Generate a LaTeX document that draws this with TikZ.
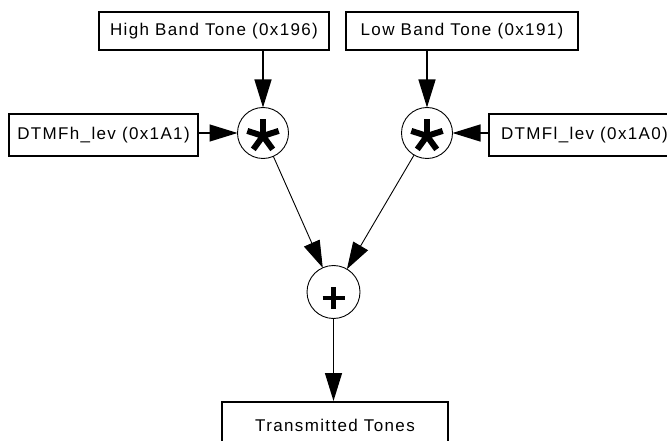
\documentclass[tikz,border=0pt]{standalone}
\usepackage{fontspec}
\setmainfont{Liberation Sans}[LetterSpace=8]
\usetikzlibrary{arrows.meta}
\begin{document}
\begin{tikzpicture}[x=1pt,y=-1pt,
  box/.style={draw,line width=2pt,rectangle,inner sep=0pt,font=\fontsize{17}{20}\selectfont},
  opnode/.style={draw,circle,line width=0.9pt,minimum size=51pt,inner sep=0pt,outer sep=0pt},
  conn/.style={line width=1.3pt,-{Triangle[length=28pt,width=17pt]}},
  diag/.style={line width=0.9pt,-{Triangle[length=27pt,width=17pt]}}]
\clip (0,0) rectangle (667,441);
\node[box,minimum width=230pt,minimum height=38pt] (hb) at (214,31) {High Band Tone (0x196)};
\node[box,minimum width=232pt,minimum height=38pt] (lb) at (462,31) {Low Band Tone (0x191)};
\node[box,minimum width=189pt,minimum height=42pt] (dh) at (103.5,135) {DTMFh\_lev (0x1A1)};
\node[box,minimum width=191pt,minimum height=42pt] (dl) at (584.5,135) {DTMFl\_lev (0x1A0)};
\node[box,minimum width=226pt,minimum height=46pt] (tt) at (335,425) {Transmitted Tones};
\node[opnode] (sL) at (263,133) {};
\node[opnode] (sR) at (427,133) {};
\node[opnode,minimum size=53pt] (pl) at (333.5,292) {};
% asterisks
\foreach \c in {sL,sR}{
  \foreach \a in {90,162,234,306,18}{
    \draw[line width=6pt] ([yshift=-3pt]\c.center) -- ++({16.5*cos(\a)},{-16.5*sin(\a)});
  }
}
% plus
\draw[line width=4.5pt] ([shift={(-11pt,-6pt)}]pl.center) -- ([shift={(11pt,-6pt)}]pl.center);
\draw[line width=4.5pt] ([shift={(0pt,-17pt)}]pl.center) -- ([shift={(0pt,5pt)}]pl.center);
% connectors
\draw[conn] (sL |- hb.south) -- (sL);
\draw[conn] (sR |- lb.south) -- (sR);
\draw[conn] (dh.east |- sL) -- (sL);
\draw[conn] (dl.west |- sR) -- (sR);
\draw[diag] (sL) -- (pl);
\draw[diag] (sR) -- (pl);
\draw[conn] (pl) -- (pl |- tt.north);
\end{tikzpicture}
\end{document}
